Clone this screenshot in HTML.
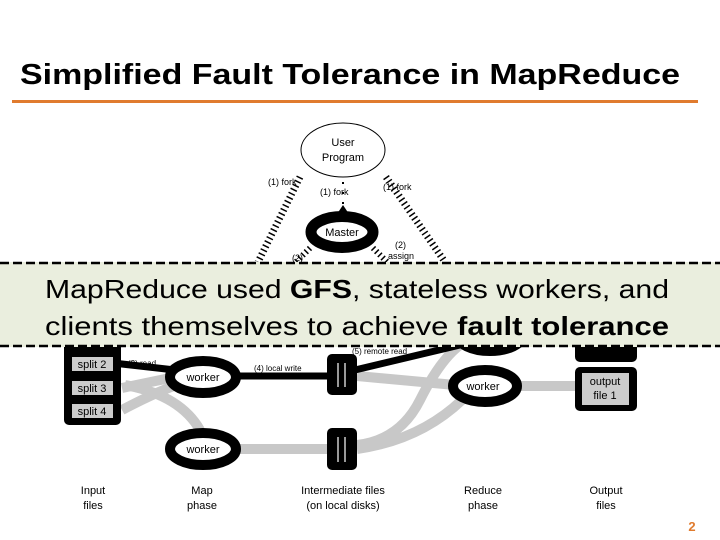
<!DOCTYPE html>
<html><head><meta charset="utf-8"><style>
html,body{margin:0;padding:0;background:#fff;}
svg{display:block;}
</style></head><body>
<svg width="720" height="540" viewBox="0 0 720 540" xmlns="http://www.w3.org/2000/svg" font-family="Liberation Sans, Arial, sans-serif">
<rect width="720" height="540" fill="#fff"/>
<text x="20" y="84" font-size="29" font-weight="bold" textLength="660" lengthAdjust="spacingAndGlyphs">Simplified Fault Tolerance in MapReduce</text>
<rect x="12" y="100" width="686" height="3" fill="#e07b2e"/>

<!-- user program -->
<ellipse cx="343" cy="150" rx="42" ry="27" fill="#fff" stroke="#000" stroke-width="1"/>
<text x="343" y="146" font-size="11" text-anchor="middle">User</text>
<text x="343" y="161" font-size="11" text-anchor="middle">Program</text>
<!-- hatched forks -->
<line x1="300" y1="177" x2="258" y2="262" stroke="#000" stroke-width="7" stroke-dasharray="1.5 3"/>
<line x1="386" y1="177" x2="445" y2="262" stroke="#000" stroke-width="7" stroke-dasharray="1.5 3"/>
<line x1="343" y1="182" x2="343" y2="210" stroke="#000" stroke-width="2" stroke-dasharray="2 8"/>
<line x1="310" y1="248" x2="296" y2="262" stroke="#000" stroke-width="6" stroke-dasharray="1.5 3"/>
<line x1="373" y1="248" x2="387" y2="262" stroke="#000" stroke-width="6" stroke-dasharray="1.5 3"/>
<text x="268" y="185" font-size="9">(1) fork</text>
<text x="320" y="195" font-size="9">(1) fork</text>
<text x="383" y="190" font-size="9">(1) fork</text>
<text x="395" y="248" font-size="9">(2)</text>
<text x="388" y="259" font-size="9">assign</text>
<text x="292" y="261" font-size="9">(2)</text>
<!-- master -->
<polygon points="337,214 349,214 343,205" fill="#000"/>
<ellipse cx="342" cy="232" rx="31" ry="15.5" fill="#fff" stroke="#000" stroke-width="11"/>
<text x="342" y="236" font-size="11" text-anchor="middle">Master</text>

<!-- gray flows -->
<g stroke="#c8c8c8" stroke-width="10" fill="none">
<path d="M122,388 Q160,380 185,375"/>
<path d="M122,410 Q160,390 185,382"/>
<path d="M125,385 Q180,395 200,430"/>
<line x1="240" y1="449" x2="330" y2="449"/>
<path d="M357,376 L455,385"/>
<path d="M357,445 Q400,440 420,400 Q440,360 460,345"/>
<path d="M357,449 Q420,440 462,400"/>
<line x1="517" y1="386" x2="577" y2="386"/>
</g>
<!-- black flows -->
<g stroke="#000" stroke-width="7" fill="none">
<line x1="113" y1="363" x2="175" y2="370"/>
<line x1="236" y1="376" x2="330" y2="376"/>
<line x1="355" y1="370" x2="460" y2="345"/>
</g>
<text x="128" y="366" font-size="8">(3) read</text>
<text x="254" y="371" font-size="8">(4) local write</text>
<text x="352" y="354" font-size="8">(5) remote read</text>

<!-- input files -->
<rect x="64" y="325" width="57" height="100" rx="5" fill="#000"/>
<rect x="72" y="357" width="41" height="14" fill="#ccc"/>
<rect x="72" y="381" width="41" height="14" fill="#ccc"/>
<rect x="72" y="404" width="41" height="14" fill="#ccc"/>
<text x="92" y="368" font-size="11" text-anchor="middle">split 2</text>
<text x="92" y="392" font-size="11" text-anchor="middle">split 3</text>
<text x="92" y="415" font-size="11" text-anchor="middle">split 4</text>

<!-- map workers -->
<ellipse cx="203" cy="377" rx="33" ry="16" fill="#fff" stroke="#000" stroke-width="10"/>
<text x="203" y="381" font-size="11" text-anchor="middle">worker</text>
<ellipse cx="203" cy="449" rx="33" ry="16" fill="#fff" stroke="#000" stroke-width="10"/>
<text x="203" y="453" font-size="11" text-anchor="middle">worker</text>

<!-- intermediate -->
<rect x="327" y="354" width="30" height="41" rx="5" fill="#000"/>
<line x1="338" y1="363" x2="338" y2="387" stroke="#ccc" stroke-width="1.5"/>
<line x1="345" y1="363" x2="345" y2="387" stroke="#ccc" stroke-width="1.5"/>
<rect x="327" y="428" width="30" height="42" rx="5" fill="#000"/>
<line x1="338" y1="437" x2="338" y2="462" stroke="#ccc" stroke-width="1.5"/>
<line x1="345" y1="437" x2="345" y2="462" stroke="#ccc" stroke-width="1.5"/>

<!-- reduce workers -->
<ellipse cx="490" cy="335" rx="33" ry="16" fill="#fff" stroke="#000" stroke-width="10"/>
<ellipse cx="485" cy="386" rx="32" ry="16" fill="#fff" stroke="#000" stroke-width="10"/>
<text x="483" y="390" font-size="11" text-anchor="middle">worker</text>

<!-- outputs -->
<rect x="575" y="320" width="62" height="42" rx="5" fill="#000"/>
<rect x="575" y="367" width="62" height="44" rx="5" fill="#000"/>
<rect x="582" y="373" width="47" height="32" fill="#ccc"/>
<text x="605" y="385" font-size="11" text-anchor="middle">output</text>
<text x="605" y="399" font-size="11" text-anchor="middle">file 1</text>

<!-- callout -->
<rect x="0" y="262" width="720" height="85" fill="#eaeede"/>
<line x1="0" y1="263" x2="720" y2="263" stroke="#000" stroke-width="2.5" stroke-dasharray="9 4"/>
<line x1="0" y1="346" x2="720" y2="346" stroke="#000" stroke-width="2.5" stroke-dasharray="9 4"/>
<text x="357" y="298" font-size="26" text-anchor="middle" textLength="624" lengthAdjust="spacingAndGlyphs">MapReduce used <tspan font-weight="bold">GFS</tspan>, stateless workers, and</text>
<text x="357" y="335" font-size="26" text-anchor="middle" textLength="624" lengthAdjust="spacingAndGlyphs">clients themselves to achieve <tspan font-weight="bold">fault tolerance</tspan></text>

<!-- bottom labels -->
<g font-size="11" text-anchor="middle">
<text x="93" y="494">Input</text><text x="93" y="509">files</text>
<text x="202" y="494">Map</text><text x="202" y="509">phase</text>
<text x="343" y="494">Intermediate files</text><text x="343" y="509">(on local disks)</text>
<text x="483" y="494">Reduce</text><text x="483" y="509">phase</text>
<text x="606" y="494">Output</text><text x="606" y="509">files</text>
</g>
<text x="692" y="531" font-size="13" font-weight="bold" fill="#e07b2e" text-anchor="middle">2</text>
</svg>
</body></html>
